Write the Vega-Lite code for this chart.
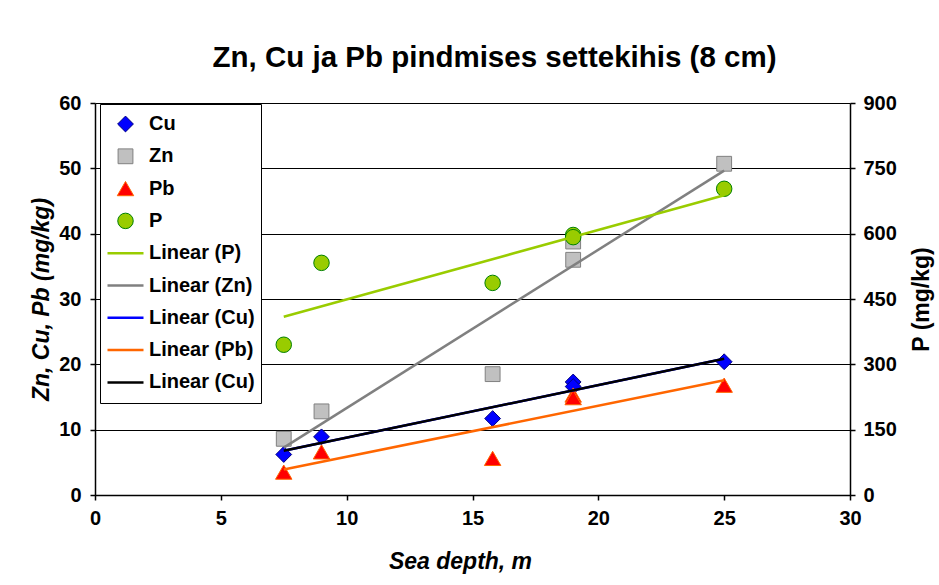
{
  "$schema": "https://vega.github.io/schema/vega-lite/v6.json",
  "width": 755,
  "height": 392,
  "autosize": {"type": "none"},
  "padding": {"left": 95, "top": 103, "right": 89, "bottom": 90},
  "background": "white",
  "title": {
    "text": "Zn, Cu ja Pb pindmises settekihis (8 cm)",
    "font": "Liberation Sans",
    "fontSize": 29.5,
    "fontWeight": "bold",
    "color": "black",
    "anchor": "middle",
    "dx": 22,
    "offset": 20
  },
  "datasets": {
    "metals": [
      {"depth": 7.5, "value": 6.2, "series": "Cu", "trend": "Linear (Cu)", "trend2": "Linear (Cu) "},
      {"depth": 9, "value": 8.9, "series": "Cu", "trend": "Linear (Cu)", "trend2": "Linear (Cu) "},
      {"depth": 15.8, "value": 11.7, "series": "Cu", "trend": "Linear (Cu)", "trend2": "Linear (Cu) "},
      {"depth": 19, "value": 17.3, "series": "Cu", "trend": "Linear (Cu)", "trend2": "Linear (Cu) "},
      {"depth": 19, "value": 16.6, "series": "Cu", "trend": "Linear (Cu)", "trend2": "Linear (Cu) "},
      {"depth": 25, "value": 20.4, "series": "Cu", "trend": "Linear (Cu)", "trend2": "Linear (Cu) "},
      {"depth": 7.5, "value": 8.6, "series": "Zn", "trend": "Linear (Zn)"},
      {"depth": 9, "value": 12.8, "series": "Zn", "trend": "Linear (Zn)"},
      {"depth": 15.8, "value": 18.5, "series": "Zn", "trend": "Linear (Zn)"},
      {"depth": 19, "value": 38.8, "series": "Zn", "trend": "Linear (Zn)"},
      {"depth": 19, "value": 36.0, "series": "Zn", "trend": "Linear (Zn)"},
      {"depth": 25, "value": 50.7, "series": "Zn", "trend": "Linear (Zn)"},
      {"depth": 7.5, "value": 3.5, "series": "Pb", "trend": "Linear (Pb)"},
      {"depth": 9, "value": 6.6, "series": "Pb", "trend": "Linear (Pb)"},
      {"depth": 15.8, "value": 5.6, "series": "Pb", "trend": "Linear (Pb)"},
      {"depth": 19, "value": 15.3, "series": "Pb", "trend": "Linear (Pb)"},
      {"depth": 19, "value": 14.9, "series": "Pb", "trend": "Linear (Pb)"},
      {"depth": 25, "value": 16.8, "series": "Pb", "trend": "Linear (Pb)"}
    ],
    "phos": [
      {"depth": 7.5, "p": 345, "series": "P", "trend": "Linear (P)"},
      {"depth": 9, "p": 533, "series": "P", "trend": "Linear (P)"},
      {"depth": 15.8, "p": 487, "series": "P", "trend": "Linear (P)"},
      {"depth": 19, "p": 597, "series": "P", "trend": "Linear (P)"},
      {"depth": 19, "p": 592, "series": "P", "trend": "Linear (P)"},
      {"depth": 25, "p": 703, "series": "P", "trend": "Linear (P)"}
    ]
  },
  "encoding": {
    "x": {
      "field": "depth",
      "type": "quantitative",
      "scale": {"domain": [0, 30], "nice": false},
      "title": "Sea depth, m",
      "axis": {
        "values": [0, 5, 10, 15, 20, 25, 30],
        "grid": false,
        "labelPadding": 8,
        "labelFlush": false,
        "titlePadding": 22,
        "titleFontStyle": "italic",
        "titleX": 365
      }
    }
  },
  "layer": [
    {
      "encoding": {
        "y": {
          "field": "value",
          "type": "quantitative",
          "scale": {"domain": [0, 60], "nice": false},
          "title": "Zn, Cu, Pb (mg/kg)",
          "axis": {
            "values": [0, 10, 20, 30, 40, 50, 60],
            "grid": true,
            "labelPadding": 9,
            "titlePadding": 5,
            "titleFontStyle": "italic"
          }
        }
      },
      "layer": [
        {
          "data": {"name": "metals"},
          "mark": {"type": "point", "filled": true, "opacity": 1},
          "encoding": {
            "fill": {"field": "series", "type": "nominal", "scale": {"domain": ["Cu", "Zn", "Pb", "P", "Linear (P)", "Linear (Zn)", "Linear (Cu)", "Linear (Pb)", "Linear (Cu) "], "range": ["#0000FF", "#C0C0C0", "#FF0000", "#99CC00", "#99CC00", "#808080", "#0000FF", "#FF6600", "#000000"]}},
            "stroke": {"field": "series", "type": "nominal", "scale": {"domain": ["Cu", "Zn", "Pb", "P", "Linear (P)", "Linear (Zn)", "Linear (Cu)", "Linear (Pb)", "Linear (Cu) "], "range": ["#000080", "#808080", "#FF6600", "#008000", "#99CC00", "#808080", "#0000FF", "#FF6600", "#000000"]}},
            "shape": {"field": "series", "type": "nominal", "scale": {"domain": ["Cu", "Zn", "Pb", "P", "Linear (P)", "Linear (Zn)", "Linear (Cu)", "Linear (Pb)", "Linear (Cu) "], "range": ["diamond", "square", "triangle-up", "circle", "stroke", "stroke", "stroke", "stroke", "stroke"]}},
            "size": {"field": "series", "type": "nominal", "scale": {"type": "ordinal", "domain": ["Cu", "Zn", "Pb", "P", "Linear (P)", "Linear (Zn)", "Linear (Cu)", "Linear (Pb)", "Linear (Cu) "], "range": [250, 220, 270, 240, 1296, 1296, 1296, 1296, 1296]}},
            "strokeWidth": {"field": "series", "type": "nominal", "scale": {"type": "ordinal", "domain": ["Cu", "Zn", "Pb", "P", "Linear (P)", "Linear (Zn)", "Linear (Cu)", "Linear (Pb)", "Linear (Cu) "], "range": [1, 1, 1, 1, 2.5, 2.5, 2.5, 2.5, 2.5]}}
          }
        },
        {
          "data": {"name": "metals"},
          "transform": [{"regression": "value", "on": "depth", "groupby": ["trend"]}],
          "mark": {"type": "line", "strokeWidth": 2.5},
          "encoding": {
            "stroke": {"field": "trend", "type": "nominal", "scale": {"domain": ["Cu", "Zn", "Pb", "P", "Linear (P)", "Linear (Zn)", "Linear (Cu)", "Linear (Pb)", "Linear (Cu) "]}}
          }
        },
        {
          "data": {"name": "metals"},
          "transform": [
            {"filter": "datum.series === 'Cu'"},
            {"regression": "value", "on": "depth", "groupby": ["trend2"]}
          ],
          "mark": {"type": "line", "strokeWidth": 2.5},
          "encoding": {
            "stroke": {"field": "trend2", "type": "nominal", "scale": {"domain": ["Cu", "Zn", "Pb", "P", "Linear (P)", "Linear (Zn)", "Linear (Cu)", "Linear (Pb)", "Linear (Cu) "]}}
          }
        }
      ]
    },
    {
      "encoding": {
        "y": {
          "field": "p",
          "type": "quantitative",
          "scale": {"domain": [0, 900], "nice": false},
          "title": "P (mg/kg)",
          "axis": {
            "orient": "right",
            "values": [0, 150, 300, 450, 600, 750, 900],
            "grid": false,
            "labelPadding": 8,
            "titlePadding": 14,
            "titleAngle": 270,
            "titleBaseline": "top"
          }
        }
      },
      "layer": [
        {
          "data": {"name": "phos"},
          "mark": {"type": "point", "filled": true, "opacity": 1},
          "encoding": {
            "fill": {"field": "series", "type": "nominal", "scale": {"domain": ["Cu", "Zn", "Pb", "P", "Linear (P)", "Linear (Zn)", "Linear (Cu)", "Linear (Pb)", "Linear (Cu) "]}},
            "stroke": {"field": "series", "type": "nominal", "scale": {"domain": ["Cu", "Zn", "Pb", "P", "Linear (P)", "Linear (Zn)", "Linear (Cu)", "Linear (Pb)", "Linear (Cu) "]}},
            "shape": {"field": "series", "type": "nominal", "scale": {"domain": ["Cu", "Zn", "Pb", "P", "Linear (P)", "Linear (Zn)", "Linear (Cu)", "Linear (Pb)", "Linear (Cu) "]}},
            "size": {"field": "series", "type": "nominal", "scale": {"type": "ordinal", "domain": ["Cu", "Zn", "Pb", "P", "Linear (P)", "Linear (Zn)", "Linear (Cu)", "Linear (Pb)", "Linear (Cu) "]}},
            "strokeWidth": {"field": "series", "type": "nominal", "scale": {"type": "ordinal", "domain": ["Cu", "Zn", "Pb", "P", "Linear (P)", "Linear (Zn)", "Linear (Cu)", "Linear (Pb)", "Linear (Cu) "]}}
          }
        },
        {
          "data": {"name": "phos"},
          "transform": [{"regression": "p", "on": "depth", "groupby": ["trend"]}],
          "mark": {"type": "line", "strokeWidth": 2.5},
          "encoding": {
            "stroke": {"field": "trend", "type": "nominal", "scale": {"domain": ["Cu", "Zn", "Pb", "P", "Linear (P)", "Linear (Zn)", "Linear (Cu)", "Linear (Pb)", "Linear (Cu) "]}}
          }
        }
      ]
    }
  ],
  "resolve": {"scale": {"y": "independent"}},
  "config": {
    "font": "Liberation Sans",
    "view": {"stroke": null},
    "axis": {
      "labelFont": "Liberation Sans",
      "labelFontSize": 20,
      "labelFontWeight": "bold",
      "labelColor": "black",
      "titleFont": "Liberation Sans",
      "titleFontSize": 23,
      "titleFontWeight": "bold",
      "titleColor": "black",
      "domainColor": "black",
      "domainWidth": 1.5,
      "tickColor": "black",
      "tickWidth": 1.5,
      "tickSize": 5,
      "gridColor": "black",
      "gridWidth": 1.2,
      "gridOpacity": 1
    },
    "legend": {
      "orient": "none",
      "legendX": 5,
      "legendY": 1,
      "title": null,
      "labelFont": "Liberation Sans",
      "labelFontSize": 20,
      "labelFontWeight": "bold",
      "labelColor": "black",
      "labelLimit": 0,
      "labelOffset": 4,
      "strokeColor": "black",
      "fillColor": "white",
      "padding": 6,
      "clipHeight": 28,
      "rowPadding": 4.3,
      "symbolOpacity": 1
    }
  }
}
